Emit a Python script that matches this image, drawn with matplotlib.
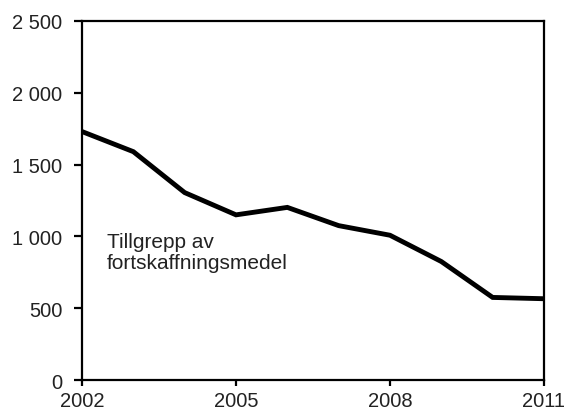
import matplotlib
matplotlib.use('Agg')
import matplotlib.pyplot as plt
from matplotlib.ticker import FuncFormatter

years = [2002, 2003, 2004, 2005, 2006, 2007, 2008, 2009, 2010, 2011]
values = [1730, 1590, 1305, 1150, 1202, 1075, 1008, 825, 575, 566]
label = 'Tillgrepp av\nfortskaffningsmedel'

plt.rcParams['font.family'] = ['Liberation Sans', 'DejaVu Sans']

fig = plt.figure(figsize=(5.68, 4.14), dpi=100)
ax = fig.add_axes([0.1444, 0.0797, 0.8133, 0.8672])
ax.plot(years, values, color='black', linewidth=3.5, solid_joinstyle='miter')

ax.set_xlim(2002, 2011)
ax.set_ylim(0, 2500)
ax.set_xticks([2002, 2005, 2008, 2011])
ax.set_yticks(range(0, 2501, 500))
ax.yaxis.set_major_formatter(FuncFormatter(lambda v, p: f'{int(v):,}'.replace(',', ' ')))

for s in ax.spines.values():
    s.set_linewidth(1.6)
ax.tick_params(direction='out', width=1.6, labelsize=14.5, colors='black',
               labelcolor='#222222')
ax.tick_params(axis='y', length=6, pad=8)
ax.tick_params(axis='x', length=4, pad=4)

ax.text(2002.49, 890, label, fontsize=15, color='#222222', va='center', ha='left',
        linespacing=1.15)

fig.savefig('out.png', dpi=100)
